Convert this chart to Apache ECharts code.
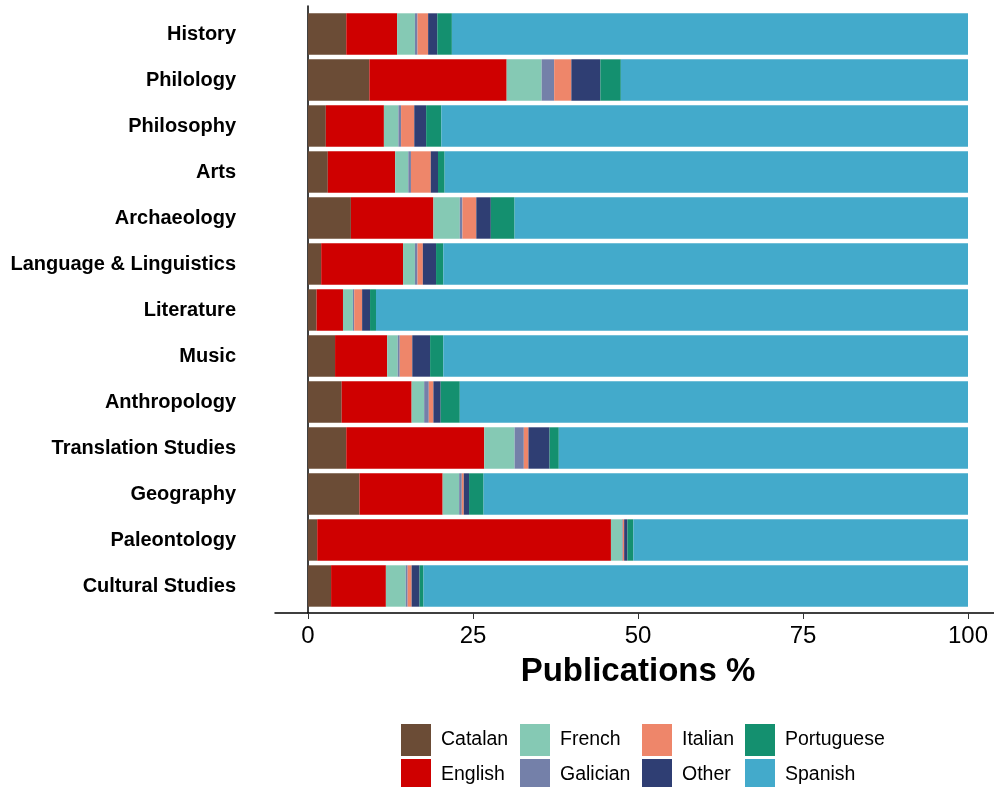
<!DOCTYPE html>
<html>
<head>
<meta charset="utf-8">
<script src="https://cdn.jsdelivr.net/npm/echarts@6/dist/echarts.min.js"></script>
<style>html,body{margin:0;padding:0;background:#fff;}#c{width:994px;height:787px;}</style>
</head>
<body>
<div id="c"></div>
<script>
const categories = ["History","Philology","Philosophy","Arts","Archaeology","Language & Linguistics","Literature","Music","Anthropology","Translation Studies","Geography","Paleontology","Cultural Studies"];
const catalan    = [5.8, 9.3, 2.7, 3.0, 6.5, 2.0, 1.3, 4.1, 5.1, 5.8, 7.8, 1.4, 3.5];
const english    = [7.7, 20.8, 8.8, 10.2, 12.5, 12.4, 4.0, 7.9, 10.6, 20.9, 12.6, 44.5, 8.3];
const french     = [2.7, 5.3, 2.2, 2.0, 4.0, 1.8, 1.5, 1.6, 1.9, 4.6, 2.5, 1.7, 3.0];
const galician   = [0.4, 1.9, 0.4, 0.4, 0.4, 0.4, 0.2, 0.3, 0.7, 1.4, 0.4, 0.1, 0.3];
const italian    = [1.6, 2.6, 2.0, 3.0, 2.1, 0.8, 1.2, 1.9, 0.7, 0.7, 0.3, 0.2, 0.6];
const other      = [1.4, 4.4, 1.8, 1.1, 2.2, 2.0, 1.2, 2.7, 1.1, 3.2, 0.8, 0.5, 1.2];
const portuguese = [2.2, 3.1, 2.3, 1.0, 3.6, 1.1, 0.9, 2.0, 2.9, 1.4, 2.2, 0.9, 0.6];
const spanish    = [78.2, 52.6, 79.8, 79.3, 68.7, 79.5, 89.7, 79.5, 77.0, 62.0, 73.4, 50.7, 82.5];
const xTicks = [0, 25, 50, 75, 100];

const seriesDefs = [
  {name: "Catalan", data: catalan, color: "#6B4C36"},
  {name: "English", data: english, color: "#CF0000"},
  {name: "French", data: french, color: "#85C9B4"},
  {name: "Galician", data: galician, color: "#7480A9"},
  {name: "Italian", data: italian, color: "#EE866A"},
  {name: "Other", data: other, color: "#2F3E73"},
  {name: "Portuguese", data: portuguese, color: "#14906F"},
  {name: "Spanish", data: spanish, color: "#43AACB"}
];

const chart = echarts.init(document.getElementById('c'), null, {renderer: 'canvas'});
const legendCols = [[0,1],[2,3],[4,5],[6,7]];
const legendLeft = [401, 520, 642, 745];
const option = {
  animation: false,
  backgroundColor: '#fff',
  grid: [
    {left: 275, width: 726, top: 11, bottom: 178, outerBoundsMode: 'none', containLabel: false},
    {left: 275, width: 726, top: 6, bottom: 174, outerBoundsMode: 'none', containLabel: false}
  ],
  xAxis: [
    {gridIndex: 0, type: 'value', min: -5, max: 105, show: false},
    {gridIndex: 1, type: 'value', min: -5, max: 105,
     axisLine: {show: true, lineStyle: {color: '#000', width: 1.5}},
     axisTick: {show: true, customValues: xTicks, length: 6, lineStyle: {color: '#333', width: 1}},
     axisLabel: {customValues: xTicks, margin: 11, fontFamily: 'Liberation Sans', fontSize: 24, color: '#000'},
     splitLine: {show: false},
     name: 'Publications %', nameLocation: 'middle', nameGap: 42,
     nameTextStyle: {fontFamily: 'Liberation Sans', fontWeight: 'bold', fontSize: 33, color: '#000'}
    }
  ],
  yAxis: [
    {gridIndex: 0, type: 'category', data: categories, inverse: true,
     axisLine: {show: false}, axisTick: {show: false},
     axisLabel: {margin: 39, fontFamily: 'Liberation Sans', fontWeight: 'bold', fontSize: 20, color: '#000'}
    },
    {gridIndex: 1, type: 'value', min: 0, max: 1,
     axisLine: {show: true, lineStyle: {color: '#000', width: 1.5}},
     axisTick: {show: false}, axisLabel: {show: false}, splitLine: {show: false}
    }
  ],
  legend: legendCols.map((cols, i) => ({
    orient: 'vertical', left: legendLeft[i], top: 724, height: 120, padding: 0,
    itemWidth: 30, itemHeight: 32, itemGap: 3, icon: 'rect',
    data: cols.map(k => seriesDefs[k].name),
    textStyle: {fontFamily: 'Liberation Sans', fontSize: 19.5, color: '#000', padding: [0,0,0,5]},
    selectedMode: false
  })),
  series: seriesDefs.map(s => ({
    name: s.name, type: 'bar', stack: 'total', xAxisIndex: 0, yAxisIndex: 0,
    barWidth: '90%', data: s.data,
    itemStyle: {color: s.color},
    emphasis: {disabled: true}
  }))
};
chart.setOption(option);
</script>
</body>
</html>
